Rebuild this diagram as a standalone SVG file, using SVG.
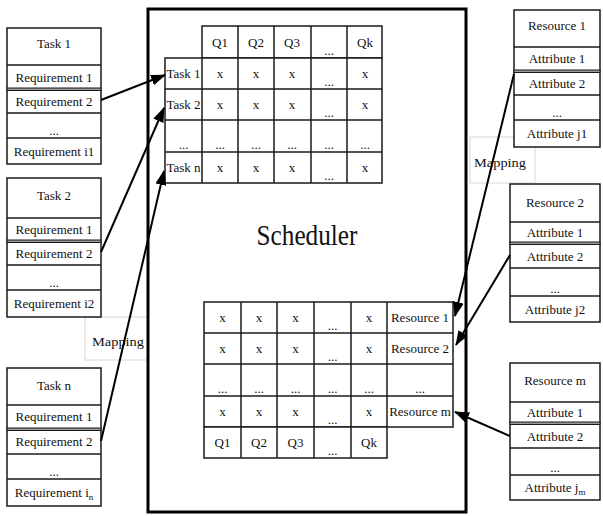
<svg xmlns="http://www.w3.org/2000/svg" width="603" height="516" viewBox="0 0 603 516">
<style>
text{font-family:"Liberation Serif","Times New Roman",serif;font-size:13px;fill:#111;text-anchor:middle}
.box{fill:#fff;stroke:#1a1a1a;stroke-width:1.5}
.ln{stroke:#1a1a1a;stroke-width:1.5;fill:none}
.gap{fill:#9a9a9a;stroke:#1a1a1a;stroke-width:1}
.map{fill:#fff;stroke:#d8d8d8;stroke-width:1}
.con{stroke:#000;stroke-width:2;fill:none;marker-end:url(#ah)}
.big{font-size:30px}
</style>
<defs>
<marker id="ah" markerUnits="userSpaceOnUse" markerWidth="15" markerHeight="11" refX="14" refY="5.5" orient="auto">
<path d="M0,0 L15,5.5 L0,11 z" fill="#000"/>
</marker>
</defs>
<rect width="603" height="516" fill="#fff"/>

<g id="mapping-left"><rect class="map" x="85" y="317" width="63" height="43"/><text x="118" y="346" font-size="15" textLength="52" lengthAdjust="spacingAndGlyphs">Mapping</text></g>
<g id="mapping-right"><rect class="map" x="470" y="137" width="65" height="46"/><text x="500" y="167" font-size="15" textLength="52" lengthAdjust="spacingAndGlyphs">Mapping</text></g>

<g id="scheduler">
<rect x="148" y="9" width="318" height="503" fill="none" stroke="#000" stroke-width="3"/>
<text class="big" x="307" y="245" textLength="101" lengthAdjust="spacingAndGlyphs">Scheduler</text>
</g>

<g id="task1">
<rect class="box" x="7" y="28" width="94" height="136"/>
<line class="ln" x1="7" y1="65" x2="101" y2="65"/>
<rect class="gap" x="7" y="88" width="94" height="2.5"/>
<line class="ln" x1="7" y1="113" x2="101" y2="113"/>
<line class="ln" x1="7" y1="138" x2="101" y2="138"/>
<text x="54" y="48">Task 1</text>
<text x="54" y="82">Requirement 1</text>
<text x="54" y="106">Requirement 2</text>
<text x="54" y="135">...</text>
<text x="54" y="156">Requirement i1</text>
</g>

<g id="task2">
<rect class="box" x="7" y="178" width="94" height="139"/>
<line class="ln" x1="7" y1="218" x2="101" y2="218"/>
<rect class="gap" x="7" y="240" width="94" height="2.5"/>
<line class="ln" x1="7" y1="265" x2="101" y2="265"/>
<line class="ln" x1="7" y1="290" x2="101" y2="290"/>
<text x="54" y="200">Task 2</text>
<text x="54" y="234">Requirement 1</text>
<text x="54" y="258">Requirement 2</text>
<text x="54" y="287">...</text>
<text x="54" y="308">Requirement i2</text>
</g>

<g id="taskn">
<rect class="box" x="7" y="368" width="94" height="138"/>
<line class="ln" x1="7" y1="405" x2="101" y2="405"/>
<rect class="gap" x="7" y="428" width="94" height="2.5"/>
<line class="ln" x1="7" y1="454" x2="101" y2="454"/>
<line class="ln" x1="7" y1="479" x2="101" y2="479"/>
<text x="54" y="390">Task n</text>
<text x="54" y="421">Requirement 1</text>
<text x="54" y="446">Requirement 2</text>
<text x="54" y="476">...</text>
<text x="54" y="497">Requirement i<tspan font-size="9" dy="3">n</tspan></text>
</g>

<g id="resource1">
<rect class="box" x="514" y="10" width="86" height="137"/>
<line class="ln" x1="514" y1="47" x2="600" y2="47"/>
<rect class="gap" x="514" y="70" width="86" height="2.5"/>
<line class="ln" x1="514" y1="95" x2="600" y2="95"/>
<line class="ln" x1="514" y1="120" x2="600" y2="120"/>
<text x="557" y="30">Resource 1</text>
<text x="557" y="63">Attribute 1</text>
<text x="557" y="88">Attribute 2</text>
<text x="557" y="117">...</text>
<text x="557" y="138">Attribute j1</text>
</g>

<g id="resource2">
<rect class="box" x="510" y="184" width="90" height="138"/>
<line class="ln" x1="510" y1="222" x2="600" y2="222"/>
<rect class="gap" x="510" y="242" width="90" height="2.5"/>
<line class="ln" x1="510" y1="268" x2="600" y2="268"/>
<line class="ln" x1="510" y1="296" x2="600" y2="296"/>
<text x="555" y="207">Resource 2</text>
<text x="555" y="237">Attribute 1</text>
<text x="555" y="261">Attribute 2</text>
<text x="555" y="293">...</text>
<text x="555" y="314">Attribute j2</text>
</g>

<g id="resourcem">
<rect class="box" x="510" y="363" width="90" height="137"/>
<line class="ln" x1="510" y1="402" x2="600" y2="402"/>
<rect class="gap" x="510" y="422" width="90" height="2.5"/>
<line class="ln" x1="510" y1="448" x2="600" y2="448"/>
<line class="ln" x1="510" y1="475" x2="600" y2="475"/>
<text x="555" y="385">Resource m</text>
<text x="555" y="417">Attribute 1</text>
<text x="555" y="441">Attribute 2</text>
<text x="555" y="472">...</text>
<text x="555" y="492">Attribute j<tspan font-size="9" dy="3">m</tspan></text>
</g>

<g id="task-queue-table">
<rect class="box" x="202" y="26" width="180" height="32"/>
<rect class="box" x="165" y="58" width="217" height="125"/>
<line class="ln" x1="238" y1="26" x2="238" y2="183"/>
<line class="ln" x1="274" y1="26" x2="274" y2="183"/>
<line class="ln" x1="311" y1="26" x2="311" y2="183"/>
<line class="ln" x1="347" y1="26" x2="347" y2="183"/>
<line class="ln" x1="202" y1="58" x2="202" y2="183"/>
<line class="ln" x1="165" y1="89" x2="382" y2="89"/>
<line class="ln" x1="165" y1="120" x2="382" y2="120"/>
<line class="ln" x1="165" y1="152" x2="382" y2="152"/>
<text x="220" y="47">Q1</text><text x="256" y="47">Q2</text><text x="292" y="47">Q3</text><text x="329" y="55">...</text><text x="365" y="47">Qk</text>
<text x="183.5" y="78">Task 1</text><text x="220" y="78">x</text><text x="256" y="78">x</text><text x="292" y="78">x</text><text x="329" y="86">...</text><text x="365" y="78">x</text>
<text x="183.5" y="109">Task 2</text><text x="220" y="109">x</text><text x="256" y="109">x</text><text x="292" y="109">x</text><text x="329" y="117">...</text><text x="365" y="109">x</text>
<text x="183.5" y="149">...</text><text x="220" y="149">...</text><text x="256" y="149">...</text><text x="292" y="149">...</text><text x="329" y="149">...</text><text x="365" y="149">...</text>
<text x="183.5" y="172">Task n</text><text x="220" y="172">x</text><text x="256" y="172">x</text><text x="292" y="172">x</text><text x="329" y="180">...</text><text x="365" y="172">x</text>
</g>

<g id="resource-queue-table">
<rect class="box" x="204" y="302" width="249" height="125"/>
<rect class="box" x="204" y="427" width="183" height="31"/>
<line class="ln" x1="241" y1="302" x2="241" y2="458"/>
<line class="ln" x1="277" y1="302" x2="277" y2="458"/>
<line class="ln" x1="314" y1="302" x2="314" y2="458"/>
<line class="ln" x1="351" y1="302" x2="351" y2="458"/>
<line class="ln" x1="387" y1="302" x2="387" y2="427"/>
<line class="ln" x1="204" y1="333" x2="453" y2="333"/>
<line class="ln" x1="204" y1="364" x2="453" y2="364"/>
<line class="ln" x1="204" y1="396" x2="453" y2="396"/>
<text x="222.5" y="322">x</text><text x="259" y="322">x</text><text x="295.5" y="322">x</text><text x="332.5" y="330">...</text><text x="369" y="322">x</text><text x="420" y="322">Resource 1</text>
<text x="222.5" y="353">x</text><text x="259" y="353">x</text><text x="295.5" y="353">x</text><text x="332.5" y="361">...</text><text x="369" y="353">x</text><text x="420" y="353">Resource 2</text>
<text x="222.5" y="393">...</text><text x="259" y="393">...</text><text x="295.5" y="393">...</text><text x="332.5" y="393">...</text><text x="369" y="393">...</text><text x="420" y="393">...</text>
<text x="222.5" y="416">x</text><text x="259" y="416">x</text><text x="295.5" y="416">x</text><text x="332.5" y="424">...</text><text x="369" y="416">x</text><text x="420" y="416">Resource m</text>
<text x="222.5" y="447">Q1</text><text x="259" y="447">Q2</text><text x="295.5" y="447">Q3</text><text x="332.5" y="455">...</text><text x="369" y="447">Qk</text>
</g>

<g id="connectors">
<line class="con" x1="101" y1="100" x2="165" y2="75"/>
<line class="con" x1="101" y1="252" x2="164" y2="108"/>
<line class="con" x1="101" y1="441" x2="164" y2="171"/>
<line class="con" x1="514" y1="74" x2="455" y2="316"/>
<line class="con" x1="510" y1="255" x2="456" y2="345"/>
<line class="con" x1="510" y1="436" x2="455" y2="412"/>
</g>
</svg>
